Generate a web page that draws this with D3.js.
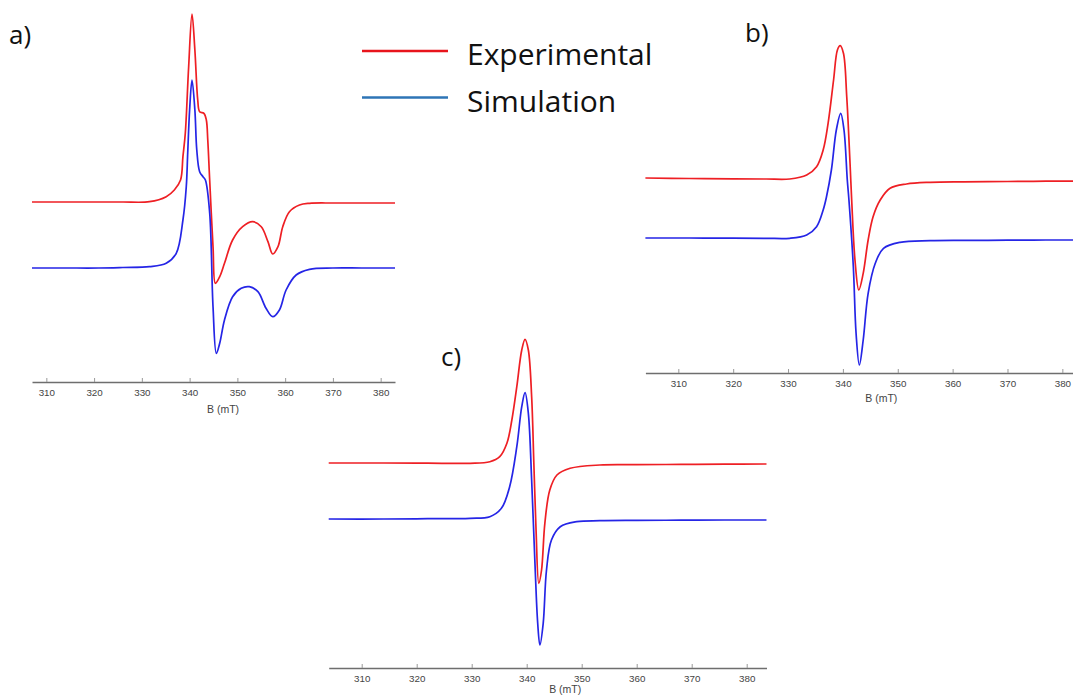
<!DOCTYPE html>
<html>
<head>
<meta charset="utf-8">
<script src="https://cdn.jsdelivr.net/npm/d3@7"></script>
<style>
  body { margin: 0; background: #fff; }
  svg { display: block; }
  .tick text { font-family: "Liberation Sans", Arial, sans-serif; fill: #444; }
</style>
</head>
<body>
<div id="chart"></div>
<script>
// field values (mT) and intensities (a.u.)

// a)
let a_field_exp = [307, 314, 321.2, 326, 331.6, 335.1, 336.8, 338.1, 338.6, 339.1, 339.8, 340.5, 341.1, 341.7, 342.1, 343.0, 343.5, 343.8,
  344.2, 344.9, 345.4, 346.3, 347.3, 349.0, 351.1, 353.2, 355.0, 356.4, 357.4, 358.5, 359.5, 360.9, 363.0, 365.1, 370, 376, 383];
let a_exp = [18.0, 18.0, 18.0, 18.0, 18.03, 18.53, 19.2, 20.2, 22.53, 24.9, 31.53, 36.8, 33.2, 28.2, 27.03, 26.87, 26.2, 24.2,
  20.2, 13.53, 9.87, 10.53, 11.87, 14.2, 15.53, 16.03, 15.53, 14.03, 12.8, 13.53, 15.53, 17.03, 17.7, 17.87, 17.9, 17.9, 17.9];
let a_field_sim = [307, 314, 321, 326, 331.6, 335.1, 337.2, 338.6, 339.3, 339.6, 340.0, 340.5, 341.1, 341.5, 342.1, 342.8, 343.3, 344.2,
  344.9, 345.6, 346.3, 347.3, 349.0, 350.8, 352.5, 354.3, 356.0, 357.4, 358.8, 360.2, 362.3, 365.1, 370, 376, 383];
let a_sim = [11.4, 11.4, 11.4, 11.45, 11.53, 11.87, 12.87, 16.2, 19.53, 22.9, 27.2, 30.2, 27.2, 23.2, 21.03, 20.53, 20.2, 16.9,
  7.53, 2.87, 3.87, 6.2, 8.53, 9.37, 9.53, 9.03, 7.37, 6.53, 7.2, 9.2, 10.7, 11.27, 11.4, 11.4, 11.4];

// b)
let b_field_exp = [304, 312, 320, 326, 330.3, 333.4, 335.2, 336.4, 337.3, 338.3, 339.0, 339.5, 340.1, 340.7, 341.3, 341.6, 342.2, 342.9,
  343.7, 344.6, 345.5, 346.8, 348.6, 351.6, 355.9, 362, 370, 377, 384];
let b_exp = [19.5, 19.45, 19.42, 19.4, 19.4, 19.8, 20.63, 22.3, 24.97, 29.3, 32.3, 32.73, 31.97, 27.63, 20.97, 17.3, 11.3, 8.3,
  9.97, 13.3, 15.63, 17.3, 18.47, 18.9, 19.07, 19.12, 19.15, 19.18, 19.2];
let b_field_sim = [304, 312, 320, 326, 330.3, 333.4, 335.2, 336.4, 337.0, 337.9, 338.8, 339.6, 340.2, 340.8, 341.1, 341.9, 342.4, 343.0,
  343.7, 344.6, 345.9, 347.4, 350.4, 355.9, 362, 370, 377, 384];
let b_sim = [13.5, 13.5, 13.48, 13.47, 13.47, 13.8, 14.63, 16.3, 17.6, 20.3, 24.3, 25.97, 24.3, 19.3, 17.3, 10.63, 3.97, 0.8,
  3.3, 7.97, 10.97, 12.47, 13.07, 13.23, 13.26, 13.28, 13.3, 13.3];

// c)
let c_field_exp = [304, 314, 322, 329.7, 333.3, 335.1, 336.4, 337.3, 338.2, 339.1, 339.7, 340.3, 340.9, 341.3, 341.7, 342.2, 342.7,
  343.3, 344.2, 345.5, 347.9, 353.3, 360, 368, 376, 383.6];
let c_exp = [20.5, 20.5, 20.48, 20.47, 20.63, 21.13, 22.47, 24.8, 28.13, 31.8, 32.87, 31.8, 27.13, 20.47, 13.8, 8.47, 9.8,
  14.47, 17.8, 19.3, 19.97, 20.3, 20.33, 20.36, 20.38, 20.4];
let c_field_sim = [304, 314, 322, 329.7, 333.3, 335.4, 336.9, 338.2, 339.1, 339.7, 340.3, 340.9, 341.5, 342.0, 342.4, 343.0, 343.6,
  344.5, 346.1, 349.1, 353.3, 360, 368, 376, 383.6];
let c_sim = [14.9, 14.9, 14.93, 14.97, 15.13, 15.97, 18.13, 22.13, 26.13, 27.53, 25.47, 18.8, 10.47, 4.47, 2.3, 4.47, 9.8,
  12.8, 14.13, 14.63, 14.73, 14.76, 14.78, 14.8, 14.8];

let tick_values = [310, 320, 330, 340, 350, 360, 370, 380];
let legend_labels = ["Experimental", "Simulation"];

const width = 1073, height = 696;
const exp_color = "#ee1f24", sim_color = "#2525e6";

let svg = d3.select("#chart")
  .append("svg")
  .attr("width", width)
  .attr("height", height);

// one spectrum panel: x scale in mT, y scale in a.u. (10 px per unit, no y axis drawn)
let draw_panel = (p) => {
  let x = d3.scaleLinear().domain(p.xdomain).range(p.xrange);
  let y = d3.scaleLinear().domain([0, (p.axisY - p.top) / 10]).range([p.axisY, p.top]);

  let g = svg.append("g");

  let axis = g.append("g")
    .attr("transform", `translate(0, ${p.axisY})`)
    .call(d3.axisBottom(x).tickValues(tick_values).tickSize(-4).tickPadding(7).tickSizeOuter(0));
  axis.select(".domain").attr("stroke", "#6e6e6e").attr("stroke-width", 1.4);
  axis.selectAll(".tick line").attr("stroke", "#999");
  axis.selectAll(".tick text").style("font-size", "9.8px");

  g.append("text")
    .attr("x", x(347))
    .attr("y", p.axisY + p.labelDy)
    .style("text-anchor", "middle")
    .style("font-family", "Liberation Sans, Arial, sans-serif")
    .style("font-size", "10.5px")
    .style("fill", "#444")
    .text("B (mT)");

  let line = d3.line()
    .x(d => x(d[0]))
    .y(d => y(d[1]))
    .curve(d3.curveCatmullRom.alpha(0.5));

  let series = [
    {field: p.field_exp, vals: p.exp, color: exp_color},
    {field: p.field_sim, vals: p.sim, color: sim_color}
  ];
  series.forEach(s => {
    g.append("path")
      .datum(s.field.map((b, i) => [b, s.vals[i]]))
      .attr("fill", "none")
      .attr("stroke", s.color)
      .attr("stroke-width", 1.7)
      .attr("stroke-linejoin", "round")
      .attr("d", line);
  });

  svg.append("text")
    .attr("x", p.tag[0])
    .attr("y", p.tag[1])
    .style("font-family", "'Open Sans', sans-serif")
    .style("font-size", "26px")
    .style("fill", "#111")
    .text(p.name);
};

draw_panel({name: "a)", tag: [9, 44], xdomain: [307, 383], xrange: [32, 395], axisY: 382, top: 0, labelDy: 31,
  field_exp: a_field_exp, exp: a_exp, field_sim: a_field_sim, sim: a_sim});
draw_panel({name: "b)", tag: [745, 42], xdomain: [304, 384], xrange: [645.4, 1084.3], axisY: 373, top: 0, labelDy: 29,
  field_exp: b_field_exp, exp: b_exp, field_sim: b_field_sim, sim: b_sim});
draw_panel({name: "c)", tag: [441, 366], xdomain: [304, 383.6], xrange: [328.7, 766.5], axisY: 668, top: 330, labelDy: 25,
  field_exp: c_field_exp, exp: c_exp, field_sim: c_field_sim, sim: c_sim});

// legend
let legend = svg.append("g");
let legend_colors = ["#e8141c", "#2e75b6"];
legend_labels.forEach((lab, i) => {
  let yy = 51 + i * 46.5;
  legend.append("line")
    .attr("x1", 362).attr("x2", 448)
    .attr("y1", yy).attr("y2", yy)
    .attr("stroke", legend_colors[i])
    .attr("stroke-width", 2.6);
  legend.append("text")
    .attr("x", 467)
    .attr("y", yy + 14)
    .style("font-family", "'Open Sans', sans-serif")
    .style("font-size", "30px")
    .style("fill", "#111")
    .text(lab);
});
</script>
</body>
</html>
